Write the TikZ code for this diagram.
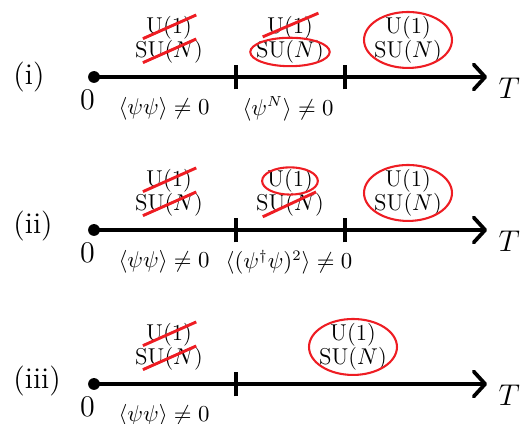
\documentclass[tikz,border=0pt]{standalone}
\usepackage{amsmath,amssymb}
\usepackage{tikz}
\usetikzlibrary{arrows.meta,positioning,calc}
\definecolor{pred}{HTML}{EE1D23}
\tikzset{
  % time axis: heavy black line with an open barb at T
  axis/.style     = {line width=1.8pt, -{Straight Barb[length=5.5pt,width=12pt,round]}},
  tickmark/.style = {line width=1.8pt},
  origin/.style   = {circle, fill=black, inner sep=2pt},
  sym/.style      = {inner sep=0pt, font=\fontsize{11}{13.5}\selectfont},
  vev/.style      = {inner sep=0pt, font=\fontsize{10.5}{12}\selectfont},
  lbl/.style      = {inner sep=0pt, font=\Large},
  % broken symmetry: red slash; unbroken: red ellipse
  cut/.style      = {pred, line width=1.4pt},
  ring/.style     = {pred, line width=1pt},
}

\begin{document}
\begin{tikzpicture}[x=1cm,y=1cm]
\useasboundingbox (0,0) rectangle (8.857,7.153);

% ---------------- (i)
\node[lbl, anchor=west] (r1) at (0.22,5.854) {(i)};
\node[origin] (o1) at (1.586,5.854) {};
\coordinate (e1) at (8.216,5.854);
\draw[axis] (o1.center) -- (e1);
\coordinate (a1) at (3.981,5.854);
\coordinate (b1) at (5.820,5.854);
\draw[tickmark] ([yshift=-0.21cm]a1) -- ([yshift=0.21cm]a1);
\draw[tickmark] ([yshift=-0.21cm]b1) -- ([yshift=0.21cm]b1);
\node[lbl] (z1) at (1.476,5.47) {$0$};
\node[lbl] (t1) at (8.590,5.66) {$T$};

\node[sym] (u1a) at (2.851,6.681) {U(1)};
\node[sym] (s1a) at (2.851,6.276) {SU($N$)};
\node[sym] (u1b) at (4.892,6.681) {U(1)};
\node[sym] (s1b) at (4.892,6.276) {SU($N$)};
\node[sym] (u1c) at (6.883,6.681) {U(1)};
\node[sym] (s1c) at (6.883,6.276) {SU($N$)};
\draw[cut] ($(u1a)+(-0.44,-0.18)$) -- ($(u1a)+(0.46,0.22)$);
\draw[cut] ($(s1a)+(-0.44,-0.18)$) -- ($(s1a)+(0.46,0.22)$);
\draw[cut] ($(u1b)+(-0.46,-0.15)$) -- ($(u1b)+(0.48,0.25)$);
\draw[ring] (s1b) ellipse [x radius=0.67, y radius=0.24];
\draw[ring] ($(u1c)!0.5!(s1c)$) ellipse [x radius=0.742, y radius=0.472];

\node[vev] (v1a) at (2.767,5.314) {$\langle\psi\psi\rangle\neq0$};
\node[vev] (v1b) at (4.859,5.314) {$\langle\psi^N\rangle\neq0$};

% ---------------- (ii)
\node[lbl, anchor=west] (r2) at (0.22,3.34) {(ii)};
\node[origin] (o2) at (1.586,3.273) {};
\coordinate (e2) at (8.216,3.273);
\draw[axis] (o2.center) -- (e2);
\coordinate (a2) at (3.981,3.273);
\coordinate (b2) at (5.820,3.273);
\draw[tickmark] ([yshift=-0.21cm]a2) -- ([yshift=0.21cm]a2);
\draw[tickmark] ([yshift=-0.21cm]b2) -- ([yshift=0.21cm]b2);
\node[lbl] (z2) at (1.476,2.889) {$0$};
\node[lbl] (t2) at (8.590,3.079) {$T$};

\node[sym] (u2a) at (2.851,4.100) {U(1)};
\node[sym] (s2a) at (2.851,3.695) {SU($N$)};
\node[sym] (u2b) at (4.892,4.100) {U(1)};
\node[sym] (s2b) at (4.892,3.695) {SU($N$)};
\node[sym] (u2c) at (6.883,4.100) {U(1)};
\node[sym] (s2c) at (6.883,3.695) {SU($N$)};
\draw[cut] ($(u2a)+(-0.44,-0.18)$) -- ($(u2a)+(0.46,0.22)$);
\draw[cut] ($(s2a)+(-0.44,-0.18)$) -- ($(s2a)+(0.46,0.22)$);
\draw[ring] (u2b) ellipse [x radius=0.47, y radius=0.23];
\draw[cut] ($(s2b)+(-0.46,-0.2)$) -- ($(s2b)+(0.44,0.22)$);
\draw[ring] ($(u2c)!0.5!(s2c)$) ellipse [x radius=0.742, y radius=0.472];

\node[vev] (v2a) at (2.767,2.733) {$\langle\psi\psi\rangle\neq0$};
\node[vev] (v2b) at (4.876,2.733) {$\langle(\psi^\dagger\psi)^2\rangle\neq0$};

% ---------------- (iii)
\node[lbl, anchor=west] (r3) at (0.22,0.73) {(iii)};
\node[origin] (o3) at (1.586,0.675) {};
\coordinate (e3) at (8.216,0.675);
\draw[axis] (o3.center) -- (e3);
\coordinate (a3) at (3.981,0.675);
\draw[tickmark] ([yshift=-0.21cm]a3) -- ([yshift=0.21cm]a3);
\node[lbl] (z3) at (1.476,0.291) {$0$};
\node[lbl] (t3) at (8.590,0.481) {$T$};

\node[sym] (u3a) at (2.851,1.502) {U(1)};
\node[sym] (s3a) at (2.851,1.097) {SU($N$)};
\node[sym] (u3c) at (5.955,1.502) {U(1)};
\node[sym] (s3c) at (5.955,1.097) {SU($N$)};
\draw[cut] ($(u3a)+(-0.44,-0.18)$) -- ($(u3a)+(0.46,0.22)$);
\draw[cut] ($(s3a)+(-0.44,-0.18)$) -- ($(s3a)+(0.46,0.22)$);
\draw[ring] ($(u3c)!0.5!(s3c)$) ellipse [x radius=0.742, y radius=0.472];

\node[vev] (v3a) at (2.767,0.135) {$\langle\psi\psi\rangle\neq0$};
\end{tikzpicture}
\end{document}
